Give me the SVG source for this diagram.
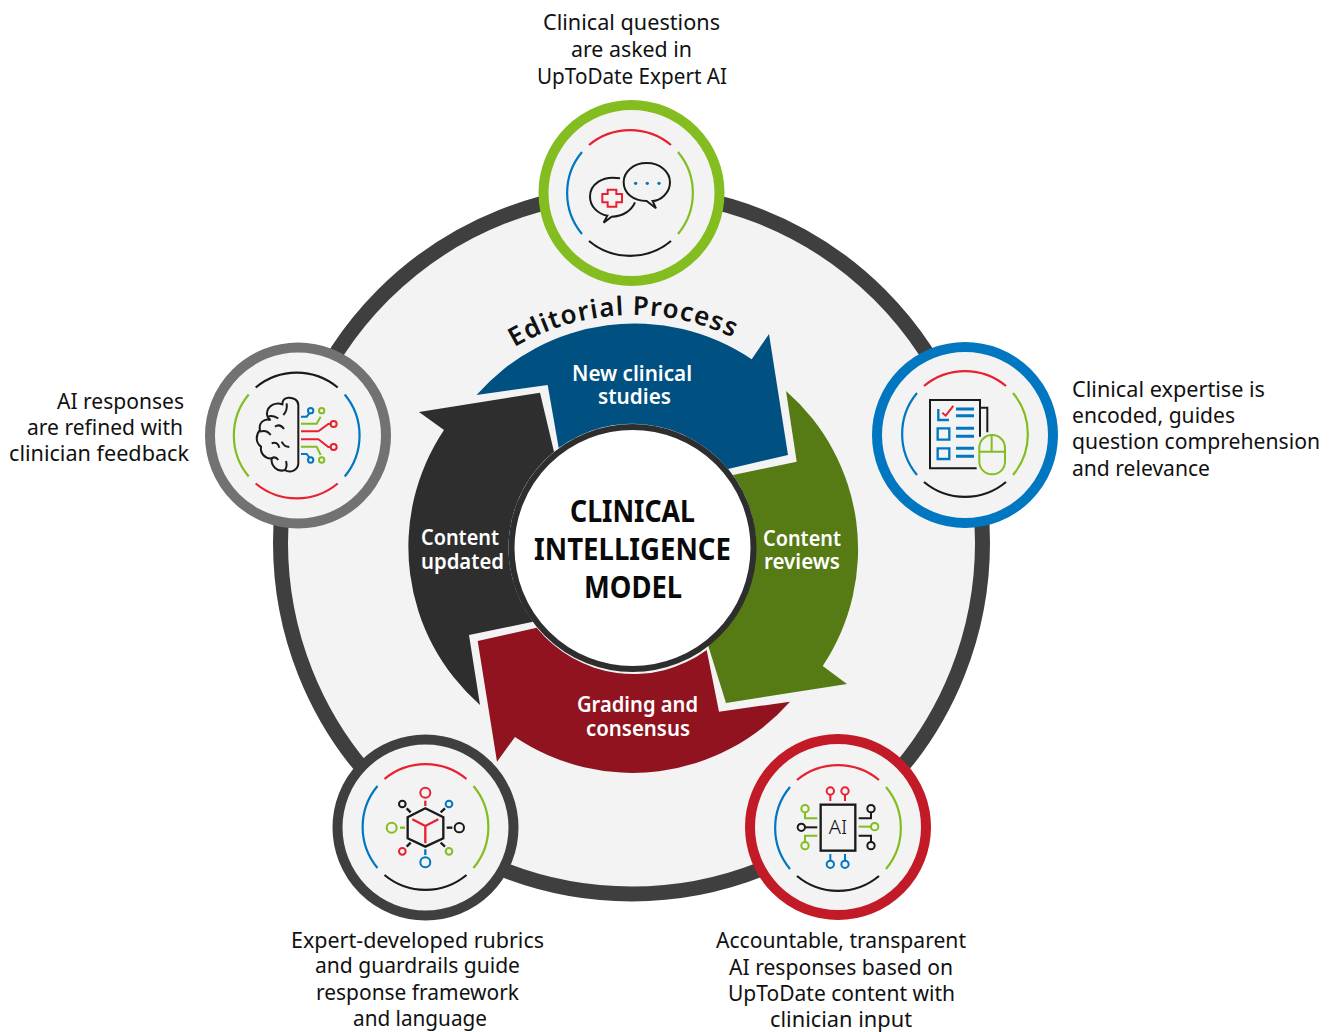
<svg xmlns="http://www.w3.org/2000/svg" width="1337" height="1032" viewBox="0 0 1337 1032">
<style>
text{font-family:"Noto Sans","Open Sans",sans-serif;fill:#111}
.l{font-size:21px}
.w{font-size:21px;font-weight:600;fill:#fff}
.t{font-size:31px;font-weight:700;fill:#0a0a0a}
.i *{fill:none;stroke-width:6}
.ring{fill:#f3f3f3;stroke-width:10}
.a{fill:none;stroke-width:2.2}
.k{stroke:#1a1a1a}.r{stroke:#e8202f}.b{stroke:#0077c0}.g{stroke:#84bd1f}
.i .d{stroke-width:7}
</style>
<defs>
<path id="arcT" d="M-41,-48A64,64 0 0 1 41,-48"/>
<path id="arcR" d="M48,-41A64,64 0 0 1 48,41"/>
<path id="arcB" d="M41,48A64,64 0 0 1 -41,48"/>
<path id="arcL" d="M-48,41A64,64 0 0 1 -48,-41"/>
<path id="ep" d="M509.5,350.4A233,233 0 0 1 738.8,340.4"/>
</defs>
<rect width="1337" height="1032" fill="#fff"/>
<circle id="outer-ring" cx="631.5" cy="543" r="351" fill="#f3f3f3" stroke="#3f3f3f" stroke-width="15"/>

<g id="connectors">
<path id="arrow-blue" fill="#005082" d="M476.5,395A210,210 0 0 1 751.7,359.3L769,334L788,455L728,469A124,124 0 0 0 558.7,448L547.7,385Z"/>
<path id="arrow-green" fill="#567a14" d="M786,391A210,210 0 0 1 822.7,666L847,684L726,703L708,645A124,124 0 0 0 733,475L796.7,461.7Z"/>
<path id="arrow-red" fill="#90131f" d="M790,701.7A210,210 0 0 1 515,737L497,761.7L477.7,641L536.7,627.7A124,124 0 0 0 706.7,650L719,711.7Z"/>
<path id="arrow-dark" fill="#2e2e2e" d="M480,705A210,210 0 0 1 444,430L419,412L540,392.7L554,451.7A124,124 0 0 0 533,621.7L469,635Z"/>
</g>

<text style="font-size:26px;font-weight:600;letter-spacing:1.1px" fill="#111" text-anchor="middle"><textPath href="#ep" startOffset="50%">Editorial Process</textPath></text>

<g id="center">
<circle cx="632.5" cy="548" r="121" fill="#fff" stroke="#2e2e2e" stroke-width="6"/>
<text class="t" x="570" y="522" textLength="125" lengthAdjust="spacingAndGlyphs">CLINICAL</text>
<text class="t" x="534" y="560" textLength="197" lengthAdjust="spacingAndGlyphs">INTELLIGENCE</text>
<text class="t" x="584" y="598" textLength="98" lengthAdjust="spacingAndGlyphs">MODEL</text>
</g>

<g id="step-labels">
<text class="w" x="572" y="381" textLength="120" lengthAdjust="spacingAndGlyphs">New clinical</text>
<text class="w" x="598" y="404" textLength="73" lengthAdjust="spacingAndGlyphs">studies</text>
<text class="w" x="763" y="546" textLength="78" lengthAdjust="spacingAndGlyphs">Content</text>
<text class="w" x="764" y="569" textLength="76" lengthAdjust="spacingAndGlyphs">reviews</text>
<text class="w" x="577" y="712" textLength="121" lengthAdjust="spacingAndGlyphs">Grading and</text>
<text class="w" x="586" y="736" textLength="104" lengthAdjust="spacingAndGlyphs">consensus</text>
<text class="w" x="421" y="545" textLength="78" lengthAdjust="spacingAndGlyphs">Content</text>
<text class="w" x="421" y="569" textLength="83" lengthAdjust="spacingAndGlyphs">updated</text>
</g>

<g id="node-questions">
<circle class="ring" cx="631.5" cy="193" r="88" stroke="#84bd1f"/>
<g transform="translate(630,193)">
<use href="#arcT" class="a r"/><use href="#arcR" class="a g"/><use href="#arcB" class="a k"/><use href="#arcL" class="a b"/>
</g>
<g class="i" transform="translate(530,95) scale(.3333)">
<path class="k" d="M270,250C215,240 180,270 180,305C180,335 205,358 232,362L221,383L245,365C280,365 305,345 315,322"/>
<path class="k" d="M350,204C390,204 420,230 420,262C420,295 390,318 368,318L378,340L350,318C310,318 281,295 281,262C281,230 310,204 350,204Z"/>
<path class="r" d="M233,284h26v13h17v25h-17v13h-26v-13h-16v-25h16z"/>
<circle cx="317" cy="265" r="5" style="fill:#0077c0"/>
<circle cx="352" cy="265" r="5" style="fill:#0077c0"/>
<circle cx="387" cy="265" r="5" style="fill:#0077c0"/>
</g>
<text class="l" x="543" y="30" textLength="177" lengthAdjust="spacingAndGlyphs">Clinical questions</text>
<text class="l" x="571" y="57" textLength="121" lengthAdjust="spacingAndGlyphs">are asked in</text>
<text class="l" x="537" y="84" textLength="190" lengthAdjust="spacingAndGlyphs">UpToDate Expert AI</text>
</g>

<g id="node-expertise">
<circle class="ring" cx="965" cy="435" r="88" stroke="#0077c0"/>
<g transform="translate(965,434)">
<use href="#arcT" class="a r"/><use href="#arcR" class="a g"/><use href="#arcB" class="a k"/><use href="#arcL" class="a b"/>
</g>
<g class="i" transform="translate(865,335) scale(.3333)">
<path class="k" d="M335,400H195V195H345V305M345,218H367V292"/>
<path class="b" style="stroke-width:7" d="M220,222V255H252M218,280H253V314H218ZM218,340H253V372H218Z"/>
<path class="r" d="M232,233L242,242L265,213"/>
<path class="b" style="stroke-width:9" d="M273,222H327M273,242H327M273,280H327M273,304H327M273,340H327M273,364H327"/>
<rect class="g" x="343" y="300" width="77" height="118" rx="38"/>
<path class="g" d="M343,350H420M380,300V350"/>
</g>
<text class="l" x="1072" y="397" textLength="193" lengthAdjust="spacingAndGlyphs">Clinical expertise is</text>
<text class="l" x="1072" y="423" textLength="163" lengthAdjust="spacingAndGlyphs">encoded, guides</text>
<text class="l" x="1072" y="449" textLength="248" lengthAdjust="spacingAndGlyphs">question comprehension</text>
<text class="l" x="1072" y="476" textLength="138" lengthAdjust="spacingAndGlyphs">and relevance</text>
</g>

<g id="node-feedback">
<circle class="ring" cx="298" cy="435.5" r="88" stroke="#727272"/>
<g transform="translate(296.7,435.5)">
<use href="#arcT" class="a k"/><use href="#arcR" class="a b"/><use href="#arcB" class="a r"/><use href="#arcL" class="a g"/>
</g>
<g class="i" transform="translate(200,335) scale(.3333)">
<path class="k" d="M295,210C295,195 280,187 265,188C252,189 247,198 247,208C228,200 202,212 201,235C200,245 205,250 212,255C192,248 175,265 180,285C168,298 165,322 183,335C180,355 195,372 215,370C212,392 232,413 255,405C270,416 295,405 295,385Z"/>
<path class="k" d="M205,245C215,240 225,245 235,250M260,205C262,220 258,232 250,240M180,290C195,285 205,290 212,300M225,275C235,268 245,272 252,282M215,325C225,320 235,325 238,338M245,320C250,330 258,337 268,335M215,370C222,365 230,368 235,375M255,405C262,395 260,385 258,378"/>
<path class="b" d="M303,245H320L328,235"/><circle class="b" cx="332" cy="227" r="8"/>
<path class="g" d="M303,266H350L362,245"/><circle class="g" cx="365" cy="227" r="8"/>
<path class="r" d="M303,289H355L385,267H392"/><circle class="r" cx="401" cy="267" r="9"/>
<path class="r" d="M303,313H355L385,336H392"/><circle class="r" cx="401" cy="336" r="9"/>
<path class="g" d="M303,335H350L362,360"/><circle class="g" cx="365" cy="375" r="8"/>
<path class="b" d="M303,357H320L328,367"/><circle class="b" cx="332" cy="375" r="8"/>
</g>
<text class="l" x="57" y="409" textLength="127" lengthAdjust="spacingAndGlyphs">AI responses</text>
<text class="l" x="27" y="435" textLength="156" lengthAdjust="spacingAndGlyphs">are refined with</text>
<text class="l" x="9" y="461" textLength="180" lengthAdjust="spacingAndGlyphs">clinician feedback</text>
</g>

<g id="node-rubrics">
<circle class="ring" cx="425.5" cy="827.5" r="88" stroke="#3f3f3f"/>
<g transform="translate(425.5,827)">
<use href="#arcT" class="a r"/><use href="#arcR" class="a g"/><use href="#arcB" class="a k"/><use href="#arcL" class="a b"/>
</g>
<g class="i" transform="translate(325,730) scale(.3333)">
<path class="k d" d="M301,235L355,262V325L301,350L248,325V262Z"/>
<path class="r d" d="M262,268L301,288L340,268M301,288V340"/>
<circle class="r" cx="301" cy="188" r="15"/><path class="r d" d="M301,212V228"/>
<circle class="b" cx="301" cy="397" r="15"/><path class="b d" d="M301,358V375"/>
<circle class="k" cx="403" cy="293" r="14"/><path class="k d" d="M365,293H382"/>
<circle class="g" cx="200" cy="293" r="15"/><path class="g d" d="M225,293H240"/>
<circle class="k" cx="232" cy="222" r="10"/><path class="k d" d="M245,235L257,247"/>
<circle class="b" cx="372" cy="222" r="10"/><path class="k d" d="M347,247L360,235"/>
<circle class="r" cx="232" cy="364" r="10"/><path class="k d" d="M245,350L257,338"/>
<circle class="g" cx="372" cy="364" r="10"/><path class="k d" d="M347,338L360,350"/>
</g>
<text class="l" x="291" y="948" textLength="253" lengthAdjust="spacingAndGlyphs">Expert-developed rubrics</text>
<text class="l" x="315" y="973" textLength="205" lengthAdjust="spacingAndGlyphs">and guardrails guide</text>
<text class="l" x="316" y="1000" textLength="203" lengthAdjust="spacingAndGlyphs">response framework</text>
<text class="l" x="353" y="1026" textLength="134" lengthAdjust="spacingAndGlyphs">and language</text>
</g>

<g id="node-accountable">
<circle class="ring" cx="838" cy="827" r="88" stroke="#c21b27"/>
<g transform="translate(838,828)">
<use href="#arcT" class="a r"/><use href="#arcR" class="a g"/><use href="#arcB" class="a k"/><use href="#arcL" class="a b"/>
</g>
<g class="i" transform="translate(738,730) scale(.3333)">
<rect class="k" x="248" y="224" width="104" height="138" style="stroke-width:7"/>
<circle class="r" cx="277" cy="183" r="11"/><circle class="r" cx="321" cy="183" r="11"/><path class="r" d="M277,194V213M321,194V213"/>
<circle class="b" cx="277" cy="403" r="11"/><circle class="b" cx="321" cy="403" r="11"/><path class="b" d="M277,372V392M321,372V392"/>
<circle class="g" cx="201" cy="236" r="11"/><path class="g" d="M201,247V265H238"/>
<circle class="k" cx="190" cy="292" r="11"/><path class="k" d="M201,292H238"/>
<circle class="g" cx="201" cy="347" r="11"/><path class="g" d="M201,336V317H238"/>
<circle class="k" cx="399" cy="236" r="11"/><path class="k" d="M399,247V265H362"/>
<circle class="g" cx="410" cy="290" r="11"/><path class="g" d="M399,290H362"/>
<circle class="k" cx="399" cy="347" r="11"/><path class="k" d="M399,336V317H362"/>
</g>
<text x="838" y="834" text-anchor="middle" style="font-size:20px;font-weight:300">AI</text>
<text class="l" x="716" y="948" textLength="250" lengthAdjust="spacingAndGlyphs">Accountable, transparent</text>
<text class="l" x="729" y="975" textLength="224" lengthAdjust="spacingAndGlyphs">AI responses based on</text>
<text class="l" x="728" y="1001" textLength="227" lengthAdjust="spacingAndGlyphs">UpToDate content with</text>
<text class="l" x="770" y="1027" textLength="142" lengthAdjust="spacingAndGlyphs">clinician input</text>
</g>
</svg>
